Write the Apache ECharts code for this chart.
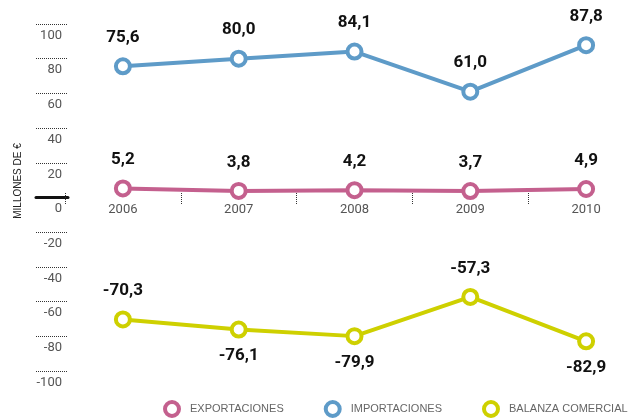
<!DOCTYPE html>
<html>
<head>
<meta charset="utf-8">
<script src="https://cdn.jsdelivr.net/npm/echarts@6/dist/echarts.min.js"></script>
<style>
  html, body { margin: 0; padding: 0; background: #fff; }
  #chart { width: 635px; height: 420px; }
</style>
</head>
<body>
<div id="chart"></div>
<script>
  const years = ['2006', '2007', '2008', '2009', '2010'];
  const exportaciones = [5.2, 3.8, 4.2, 3.7, 4.9];
  const importaciones = [75.6, 80.0, 84.1, 61.0, 87.8];
  const balanza = [-70.3, -76.1, -79.9, -57.3, -82.9];
  const yTicks = [-100, -80, -60, -40, -20, 0, 20, 40, 60, 80, 100];

  const numFont = "Roboto, 'Liberation Sans', sans-serif";
  const fmt = p => p.value.toFixed(1).replace('.', ',');

  // balanza labels that sit under the point
  const below = [1, 2, 4];

  function line(name, values, color, labelsBelow) {
    return {
      name: name,
      type: 'line',
      xAxisIndex: 0,
      yAxisIndex: 0,
      symbol: 'circle',
      symbolSize: 14,
      lineStyle: { color: color, width: 4 },
      itemStyle: { color: '#fff', borderColor: color, borderWidth: 4 },
      label: {
        show: true, position: 'top', distance: 11, formatter: fmt,
        fontFamily: numFont, fontWeight: 'bold', fontSize: 17, color: '#111'
      },
      data: values.map((v, i) => labelsBelow && labelsBelow.includes(i)
        ? { value: v, label: { position: 'bottom', distance: 9 } }
        : v),
      z: 3
    };
  }

  const chart = echarts.init(document.getElementById('chart'));
  chart.setOption({
    animation: false,
    grid: [
      { left: 65, right: -9, top: 24, bottom: 49, outerBoundsMode: 'none' },
      { left: 36, width: 32, top: 24, bottom: 49, outerBoundsMode: 'none' },
      // strip that ends at the zero line + 6px, for year labels and ticks
      { left: 65, right: -9, top: 24, height: 180, outerBoundsMode: 'none' }
    ],
    xAxis: [
      {
        gridIndex: 0, type: 'category', data: years, boundaryGap: true,
        axisLine: { show: false }, axisTick: { show: false },
        axisLabel: { show: false }, splitLine: { show: false }
      },
      {
        gridIndex: 1, type: 'value', min: 0, max: 1,
        axisLine: { show: true, onZero: true, lineStyle: { color: '#111', width: 3 } },
        axisTick: { show: false }, axisLabel: { show: false }, splitLine: { show: false }
      },
      {
        gridIndex: 2, type: 'category', data: years, boundaryGap: true, position: 'bottom',
        axisLine: { show: false, onZero: false },
        axisTick: { show: true, inside: true, length: 11, lineStyle: { color: '#333', type: [1, 1], width: 1 } },
        axisLabel: { margin: -1, fontFamily: numFont, fontSize: 13, color: '#555' },
        splitLine: { show: false }
      }
    ],
    yAxis: [
      { gridIndex: 0, type: 'value', min: -100, max: 100, show: false },
      {
        gridIndex: 1, type: 'value', position: 'right',
        min: yTicks[0], max: yTicks[yTicks.length - 1], interval: 20,
        axisLine: { show: false }, axisTick: { show: false },
        axisLabel: {
          inside: true, margin: 6, verticalAlign: 'top', padding: [5, 0, 0, 0],
          fontFamily: numFont, fontSize: 13, color: '#555'
        },
        splitLine: { show: true, lineStyle: { color: '#333', type: 'dotted', width: 1 } }
      },
      { gridIndex: 2, type: 'value', min: 0, max: 1, show: false }
    ],
    legend: {
      bottom: 2, left: 163, width: 470, padding: 0, itemGap: 40,
      icon: 'circle', itemWidth: 14, itemHeight: 14,
      itemStyle: { color: '#fff', borderWidth: 4 },
      textStyle: { fontFamily: "'Liberation Sans', sans-serif", fontSize: 11, color: '#666', padding: [0, 0, 0, 6] },
      data: ['EXPORTACIONES', 'IMPORTACIONES', 'BALANZA COMERCIAL']
    },
    graphic: [{
      type: 'text', x: 18, y: 181, rotation: Math.PI / 2,
      style: {
        text: 'MILLONES DE €', fill: '#222', font: "10px 'Liberation Sans', sans-serif",
        align: 'center', verticalAlign: 'middle'
      }
    }],
    series: [
      line('EXPORTACIONES', exportaciones, '#c4608e'),
      line('IMPORTACIONES', importaciones, '#5e9bc8'),
      line('BALANZA COMERCIAL', balanza, '#ced000', below)
    ]
  });
</script>
</body>
</html>
